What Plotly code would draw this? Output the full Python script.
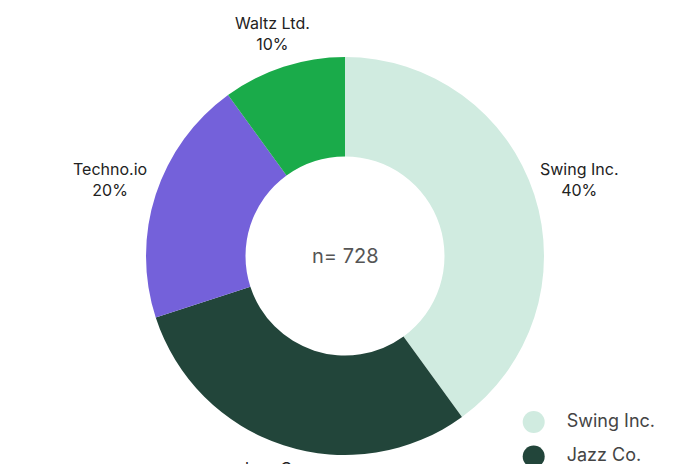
import math
import plotly.graph_objects as go

categories = ["Swing Inc.", "Jazz Co.", "Techno.io", "Waltz Ltd."]
shares = [40, 30, 20, 10]
colors = ["#d0ebe0", "#22453a", "#7461da", "#1aab4a"]
total_n = 728
legend_pos = [0, 1, 2, 3]

W, H = 696, 464
# page is drawn with an 8px body offset; positions below are figure pixels
CX, CY, R = 337, 248, 199

fig = go.Figure()
fig.add_trace(go.Pie(
    labels=categories,
    values=shares,
    marker=dict(colors=colors, line=dict(width=0)),
    hole=0.5,
    sort=False,
    direction="clockwise",
    rotation=0,
    textinfo="none",
    domain=dict(x=[(CX-R)/W, (CX+R)/W], y=[1-(CY+R)/H, 1-(CY-R)/H]),
    showlegend=False,
    hoverinfo="skip",
    automargin=False,
))

# outside labels placed along each slice's mid-angle
total = sum(shares)
annotations = []
cum = 0
for lab, v in zip(categories, shares):
    theta = math.radians((cum + v / 2) / total * 360)
    cum += v
    d = R + 29 + 20 * abs(math.sin(theta))
    annotations.append(dict(
        text=f"{lab}<br>{round(v / total * 100)}%",
        x=CX/W, y=1-CY/H, xref="paper", yref="paper",
        xshift=d * math.sin(theta), yshift=d * math.cos(theta),
        xanchor="center", yanchor="middle", align="center",
        showarrow=False, font=dict(family="Inter", size=16, color="#222222"),
    ))
annotations.append(dict(
    text=f"n= {total_n}", x=CX/W, y=1-CY/H, xref="paper", yref="paper",
    showarrow=False, font=dict(family="Inter", size=20, color="#555555"),
))

# legend drawn with library scales
fig.add_trace(go.Scatter(
    x=[0]*len(categories), y=legend_pos,
    mode="markers",
    marker=dict(size=22, color=colors, symbol="circle", line=dict(width=0)),
    xaxis="x", yaxis="y", cliponaxis=False, showlegend=False, hoverinfo="skip",
))
fig.add_trace(go.Scatter(
    x=[1]*len(categories), y=legend_pos,
    mode="text", text=categories, textposition="middle right",
    textfont=dict(family="Inter", size=18, color="#444444"),
    xaxis="x", yaxis="y", cliponaxis=False, showlegend=False, hoverinfo="skip",
))

x0 = -25.7/33
fig.update_layout(
    width=W, height=H,
    margin=dict(l=0, r=0, t=0, b=0, autoexpand=False),
    paper_bgcolor="white", plot_bgcolor="rgba(0,0,0,0)",
    font=dict(family="Inter"),
    showlegend=False,
    xaxis=dict(domain=[500/W, 1], range=[x0, x0 + 196/33], visible=False, fixedrange=True),
    yaxis=dict(domain=[0, 100/H], range=[52/36, -52/36], visible=False, fixedrange=True),
    annotations=annotations,
)

fig.write_html("out.html")
